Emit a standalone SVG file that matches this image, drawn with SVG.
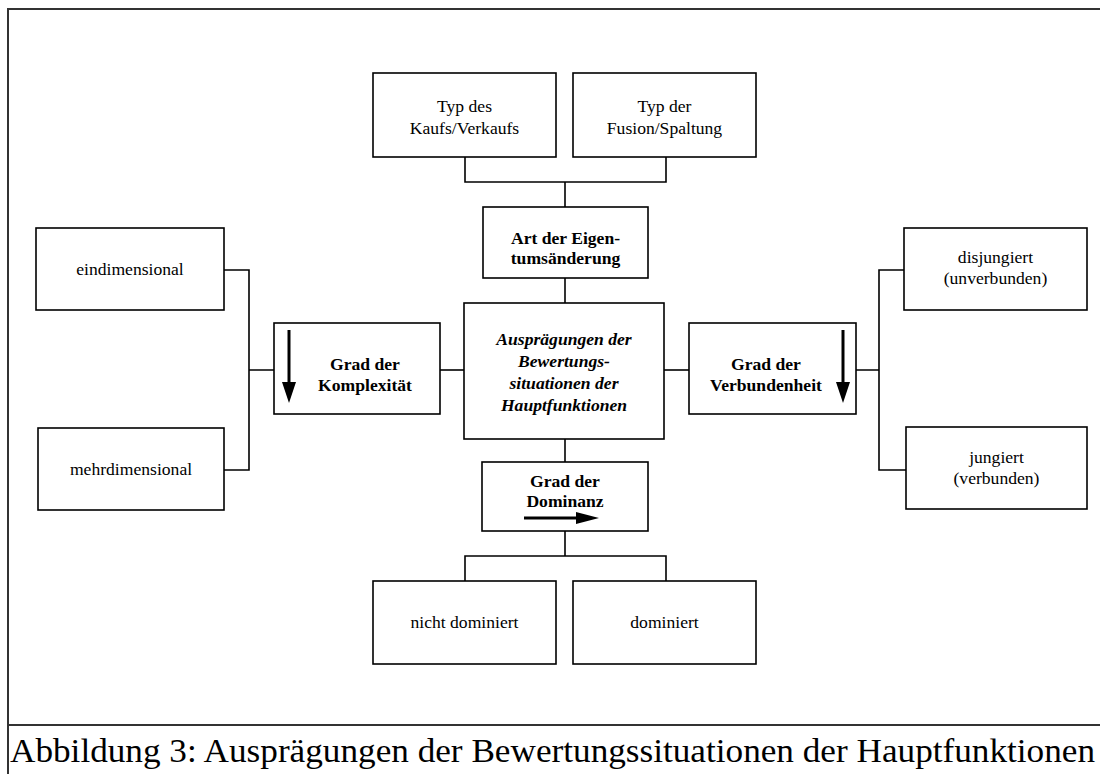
<svg xmlns="http://www.w3.org/2000/svg" width="1100" height="774" viewBox="0 0 1100 774" font-family="'Liberation Serif', 'Times New Roman', serif">
<style>
.box{fill:#fff;stroke:#000;stroke-width:1.6}
.c{fill:none;stroke:#000;stroke-width:1.6}
.t{font-size:17.6px;fill:#000;text-anchor:middle}
.b{font-weight:bold}
.i{font-style:italic;font-weight:bold}
.frame{fill:none;stroke:#333;stroke-width:2}
</style>
<rect x="0" y="0" width="1100" height="774" fill="#fff"/>
<g id="frame">
<path class="frame" d="M8,774 V9 H1100"/>
<path class="frame" d="M8,725 H1100"/>
<text x="10" y="762" font-family="'Liberation Serif', 'Times New Roman', serif" font-size="34" textLength="1085" lengthAdjust="spacingAndGlyphs">Abbildung 3: Ausprägungen der Bewertungssituationen der Hauptfunktionen</text>
</g>
<g id="connectors">
<path class="c" d="M465,157 V182 H666 V157 M565,182 V207"/>
<path class="c" d="M565,278 V303"/>
<path class="c" d="M565,439 V462"/>
<path class="c" d="M565,531 V556 M465,581 V556 H666 V581"/>
<path class="c" d="M440,370 H464"/>
<path class="c" d="M664,370 H689"/>
<path class="c" d="M224,270 H249 V470 H224 M249,370 H274"/>
<path class="c" d="M856,370 H879 M905,270 H879 V470 H907"/>
</g>
<g id="n-kauf">
<rect class="box" x="373" y="73" width="183" height="84"/>
<text class="t" x="464.5" y="112" font-family="'Liberation Serif', serif">Typ des</text>
<text class="t" x="464.5" y="134" font-family="'Liberation Serif', serif">Kaufs/Verkaufs</text>
</g>
<g id="n-fusion">
<rect class="box" x="573" y="73" width="183" height="84"/>
<text class="t" x="664.5" y="112" font-family="'Liberation Serif', serif">Typ der</text>
<text class="t" x="664.5" y="134" font-family="'Liberation Serif', serif">Fusion/Spaltung</text>
</g>
<g id="n-art">
<rect class="box" x="483" y="207" width="165" height="71"/>
<text class="t b" x="565.5" y="244" font-family="'Liberation Serif', serif">Art der Eigen-</text>
<text class="t b" x="565.5" y="264" font-family="'Liberation Serif', serif">tumsänderung</text>
</g>
<g id="n-center">
<rect class="box" x="464" y="303" width="200" height="136"/>
<text class="t i" x="564" y="345" font-family="'Liberation Serif', serif">Ausprägungen der</text>
<text class="t i" x="564" y="367" font-family="'Liberation Serif', serif">Bewertungs-</text>
<text class="t i" x="564" y="389" font-family="'Liberation Serif', serif">situationen der</text>
<text class="t i" x="564" y="411" font-family="'Liberation Serif', serif">Hauptfunktionen</text>
</g>
<g id="n-komplex">
<rect class="box" x="274" y="323" width="166" height="91"/>
<path d="M289,330 V385" stroke="#000" stroke-width="3"/>
<path d="M282,382 L296,382 L289,403 Z" fill="#000"/>
<text class="t b" x="365" y="370" font-family="'Liberation Serif', serif">Grad der</text>
<text class="t b" x="365" y="391" font-family="'Liberation Serif', serif">Komplexität</text>
</g>
<g id="n-verbund">
<rect class="box" x="689" y="323" width="167" height="91"/>
<path d="M843,330 V385" stroke="#000" stroke-width="3"/>
<path d="M836,382 L850,382 L843,403 Z" fill="#000"/>
<text class="t b" x="766" y="370" font-family="'Liberation Serif', serif">Grad der</text>
<text class="t b" x="766" y="391" font-family="'Liberation Serif', serif">Verbundenheit</text>
</g>
<g id="n-dominanz">
<rect class="box" x="482" y="462" width="166" height="69"/>
<text class="t b" x="565" y="487" font-family="'Liberation Serif', serif">Grad der</text>
<text class="t b" x="565" y="507" font-family="'Liberation Serif', serif">Dominanz</text>
<path d="M524,518 H580" stroke="#000" stroke-width="3"/>
<path d="M576,512 L599,518 L576,524 Z" fill="#000"/>
</g>
<g id="n-eindim">
<rect class="box" x="36" y="228" width="188" height="82"/>
<text class="t" x="130" y="275" font-family="'Liberation Serif', serif">eindimensional</text>
</g>
<g id="n-mehrdim">
<rect class="box" x="38" y="428" width="186" height="82"/>
<text class="t" x="131" y="475" font-family="'Liberation Serif', serif">mehrdimensional</text>
</g>
<g id="n-disj">
<rect class="box" x="904" y="228" width="183" height="82"/>
<text class="t" x="995.5" y="263" font-family="'Liberation Serif', serif">disjungiert</text>
<text class="t" x="995.5" y="284" font-family="'Liberation Serif', serif">(unverbunden)</text>
</g>
<g id="n-jung">
<rect class="box" x="906" y="427" width="181" height="82"/>
<text class="t" x="996.5" y="463" font-family="'Liberation Serif', serif">jungiert</text>
<text class="t" x="996.5" y="484" font-family="'Liberation Serif', serif">(verbunden)</text>
</g>
<g id="n-nichtdom">
<rect class="box" x="373" y="581" width="183" height="83"/>
<text class="t" x="464.5" y="628" font-family="'Liberation Serif', serif">nicht dominiert</text>
</g>
<g id="n-dom">
<rect class="box" x="573" y="581" width="183" height="83"/>
<text class="t" x="664.5" y="628" font-family="'Liberation Serif', serif">dominiert</text>
</g>
</svg>
